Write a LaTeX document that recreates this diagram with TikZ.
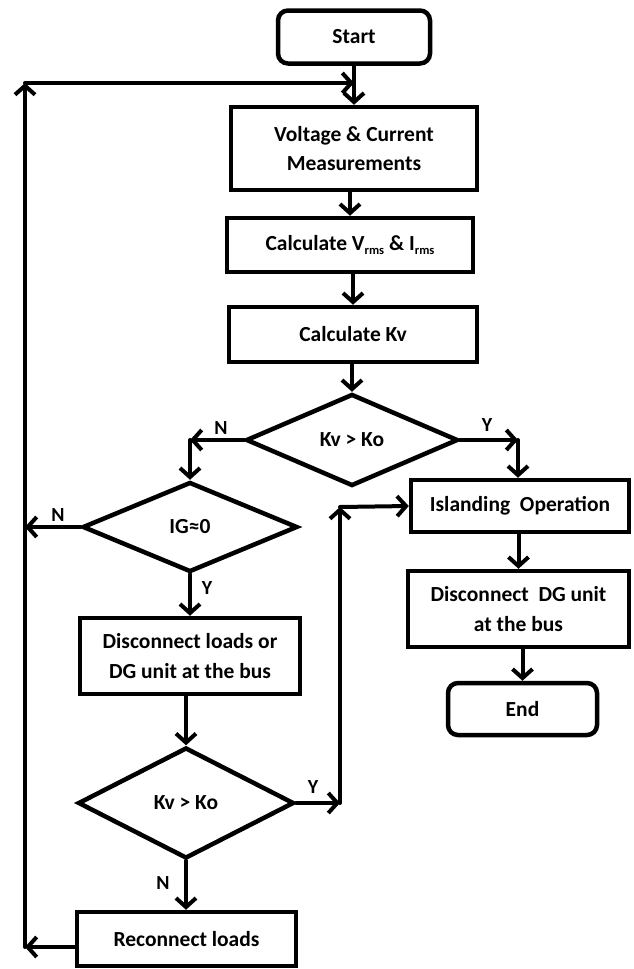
\documentclass[tikz,border=0pt]{standalone}
\usepackage{fontspec}
\setmainfont{Carlito}
\usetikzlibrary{shapes.geometric,arrows.meta}
\begin{document}
\begin{tikzpicture}[x=1pt,y=-1pt,
  every node/.style={font=\fontsize{21.5}{29.5}\selectfont\bfseries},
  procbox/.style={draw,line width=4.5pt,rectangle,align=center,inner sep=0pt},
  termbox/.style={draw,line width=4.5pt,rectangle,rounded corners=10pt,align=center,inner sep=0pt},
  decbox/.style={draw,line width=4.5pt,diamond,inner sep=0pt,aspect=2},
  conn/.style={line width=4pt,line cap=round,line join=round},
  arr/.style={conn,-{Straight Barb[length=9pt,width=20pt,line width=4pt]}},
  lbl/.style={font=\fontsize{20}{22}\selectfont\bfseries,inner sep=0pt}
]
\useasboundingbox (0,0) rectangle (634,969);
\fill[white] (0,0) rectangle (634,969);

% nodes
\node[termbox,minimum width=152pt,minimum height=53pt] (start) at (354,37) {Start};
\node[procbox,minimum width=246pt,minimum height=83pt] (meas) at (354,148.5) {Voltage \& Current\\Measurements};
\node[procbox,minimum width=246pt,minimum height=54pt] (vrms) at (350,245)
  {Calculate V\raisebox{-0.45ex}{\fontsize{12.5}{12.5}\selectfont rms} \& I\raisebox{-0.45ex}{\fontsize{12.5}{12.5}\selectfont rms}};
\node[procbox,minimum width=248pt,minimum height=55pt] (kv) at (353,334.5) {Calculate Kv};
\node[decbox,minimum width=212pt,minimum height=92pt] (d1) at (352,440) {Kv > Ko};
\node[decbox,minimum width=215pt,minimum height=90pt] (d2) at (190,527) {IG≈0};
\node[procbox,minimum width=220pt,minimum height=76pt] (disc) at (190,656) {Disconnect loads or\\DG unit at the bus};
\node[decbox,minimum width=216pt,minimum height=111pt] (d3) at (186,803) {Kv > Ko};
\node[procbox,minimum width=219pt,minimum height=54pt] (recon) at (186.5,939) {Reconnect loads};
\node[procbox,minimum width=218pt,minimum height=52pt] (isl) at (520,506) {Islanding~ Operation};
\node[procbox,minimum width=221pt,minimum height=76pt] (dg) at (518.5,609) {Disconnect~ DG unit\\at the bus};
\node[termbox,minimum width=149pt,minimum height=52pt] (end) at (522.5,709) {End};

% coordinates
\coordinate (loopj) at (354,83);
\coordinate (ltop) at (25,83);
\coordinate (lbot) at (25,947);
\coordinate (lmid) at (25,527);
\coordinate (c1) at (190,440);
\coordinate (c2) at (518,440);
\coordinate (c3) at (340,803);
\coordinate (c4) at (340,507);

% connectors
\draw[arr] (start.south) -- (meas.north);
\draw[arr] (meas.south -| vrms.north) -- (vrms.north);
\draw[arr] (vrms.south -| kv.north) -- (kv.north);
\draw[arr] (kv.south -| d1.north) -- (d1.north);
\draw[arr] (d1.west) -- (c1);
\draw[arr] (c1) -- (d2.north);
\draw[arr] (d1.east) -- (c2);
\draw[arr] (c2) -- (c2 |- isl.north);
\draw[arr] (d2.west) -- (lmid);
\draw[arr] (d2.south) -- (disc.north);
\draw[arr] (disc.south -| d3.north) -- (d3.north);
\draw[arr] (d3.south) -- (d3.south |- recon.north);
\draw[arr] (d3.east) -- (c3);
\draw[arr] (c3) -- (c4);
\draw[arr] (c4) -- (isl.west);
\draw[arr] (recon.west |- lbot) -- (lbot);
\draw[arr] (lbot) -- (ltop);
\draw[arr] (ltop) -- (loopj);
\draw[arr] (isl.south -| dg.north) -- (dg.north);
\draw[arr] (dg.south -| end.north) -- (end.north);

% labels
\node[lbl] (n1) at (221,428) {N};
\node[lbl] (y1) at (487,425) {Y};
\node[lbl] (n2) at (58,515) {N};
\node[lbl] (y2) at (207,588) {Y};
\node[lbl] (y3) at (313,787) {Y};
\node[lbl] (n3) at (163,883) {N};
\end{tikzpicture}
\end{document}
